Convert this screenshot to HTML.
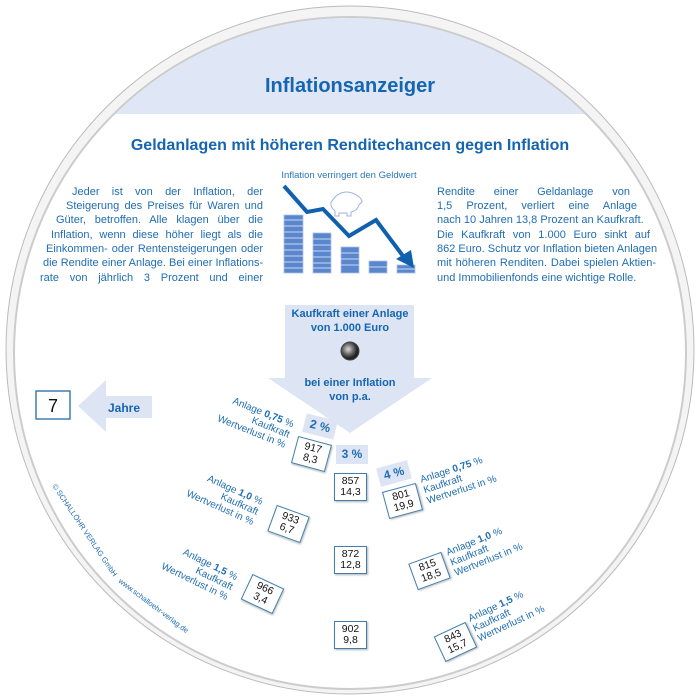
<!DOCTYPE html>
<html><head><meta charset="utf-8"><style>
body{margin:0;width:700px;height:700px;background:#fff;overflow:hidden;position:relative;font-family:"Liberation Sans",sans-serif;}
.ln{position:absolute;font-size:11px;color:#1f6db3;text-align:justify;text-align-last:justify;white-space:nowrap;line-height:14px;height:14px;}
.ln.l{text-align-last:left}
.r{position:absolute;font-size:10px;color:#1f6db3;line-height:11px;white-space:nowrap;}
.box{position:absolute;background:#fff;border:1.5px solid #3f7fb0;font-size:10.5px;line-height:11px;text-align:center;color:#111;box-shadow:1px 1px 2px rgba(0,0,0,.3);padding:2px 0;}
.pct{position:absolute;background:#dde5f5;color:#1f6db3;font-weight:bold;font-size:12px;text-align:center;line-height:19px;height:19px;width:32px;}
</style></head><body>
<svg width="700" height="700" style="position:absolute;left:0;top:0">
<defs>
<clipPath id="cd"><circle cx="350" cy="353" r="335"/></clipPath>
<radialGradient id="coin" cx="40%" cy="40%"><stop offset="0" stop-color="#ddd"/><stop offset=".6" stop-color="#666"/><stop offset="1" stop-color="#222"/></radialGradient>
</defs>
<circle cx="350" cy="350" r="344" fill="#f4f4f4" stroke="#bbb" stroke-width="1"/>
<circle cx="350" cy="353" r="336" fill="#fff" stroke="#ccc" stroke-width="2"/>
<rect x="0" y="0" width="700" height="114" fill="#dfe6f5" clip-path="url(#cd)"/>
<text x="350" y="92" text-anchor="middle" font-family="Liberation Sans" font-weight="bold" font-size="20" fill="#1565b0">Inflationsanzeiger</text>
<text x="350" y="150" text-anchor="middle" font-family="Liberation Sans" font-weight="bold" font-size="16" fill="#1565b0">Geldanlagen mit höheren Renditechancen gegen Inflation</text>
<text x="349" y="178" text-anchor="middle" font-family="Liberation Sans" font-size="9.5" fill="#2b76bb">Inflation verringert den Geldwert</text>
<g fill="#5a86cc" stroke="#a9c0e8" stroke-width="0.8">
<rect x="284" y="215" width="19" height="58"/>
<rect x="313" y="233" width="18" height="40"/>
<rect x="341" y="247" width="18" height="26"/>
<rect x="369" y="261" width="18" height="12"/>
<rect x="397" y="265" width="18" height="8"/>
</g>
<g stroke="#c9d8f2" stroke-width="1">
<path d="M284 220h19M284 226h19M284 232h19M284 238h19M284 244h19M284 250h19M284 256h19M284 262h19M284 268h19M313 239h18M313 245h18M313 251h18M313 257h18M313 263h18M313 268h18M341 253h18M341 259h18M341 265h18M369 267h18M397 269h18"/>
</g>
<path d="M336 196 q10 -8 22 0 q4 3 4 6 l-3 3 q-2 6 -8 7 v4 h-4 v-3 h-8 v3 h-4 v-5 q-5 -4 -4 -9 z" fill="none" stroke="#9fb3dd" stroke-width="1"/>
<polyline points="284,186 307,212 323,209 349,236 376,220 403,256" fill="none" stroke="#1060b0" stroke-width="4"/>
<polygon points="396,259 411,250 414,268" fill="#1060b0"/>
<polygon points="285,305 414,305 414,378 432,378 350,433 268,378 285,378" fill="#dde5f5"/>
<text x="350" y="317" text-anchor="middle" font-family="Liberation Sans" font-weight="bold" font-size="11" fill="#1565b0">Kaufkraft einer Anlage</text>
<text x="350" y="331" text-anchor="middle" font-family="Liberation Sans" font-weight="bold" font-size="11" fill="#1565b0">von 1.000 Euro</text>
<circle cx="350" cy="351" r="9" fill="url(#coin)" stroke="#444" stroke-width="1"/>
<text x="350" y="386" text-anchor="middle" font-family="Liberation Sans" font-weight="bold" font-size="11" fill="#1565b0">bei einer Inflation</text>
<text x="350" y="400" text-anchor="middle" font-family="Liberation Sans" font-weight="bold" font-size="11" fill="#1565b0">von p.a.</text>
<polygon points="78,406 106,380 106,396 152,396 152,418 106,418 106,432" fill="#dde5f5"/>
<text x="108" y="412" font-family="Liberation Sans" font-weight="bold" font-size="12" fill="#1565b0">Jahre</text>
<rect x="36" y="391" width="34" height="28" fill="#fff" stroke="#3f7fb0" stroke-width="1.5"/>
<text x="53" y="412" text-anchor="middle" font-family="Liberation Sans" font-size="18" fill="#111">7</text>
<text transform="translate(52,486) rotate(56)" font-family="Liberation Sans" font-size="7.5" fill="#1f6db3">© SCHALLÖHR VERLAG GmbH</text>
<text transform="translate(118,582) rotate(37)" font-family="Liberation Sans" font-size="7.5" fill="#1f6db3">www.schalloehr-verlag.de</text>
</svg>
<div class="ln" style="left:72px;top:185px;width:191px">Jeder ist von der Inflation, der</div>
<div class="ln" style="left:66px;top:199px;width:197px">Steigerung des Preises für Waren und</div>
<div class="ln" style="left:56px;top:213px;width:207px">Güter, betroffen. Alle klagen über die</div>
<div class="ln" style="left:51px;top:228px;width:212px">Inflation, wenn diese höher liegt als die</div>
<div class="ln" style="left:46px;top:242px;width:217px">Einkommen- oder Rentensteigerungen oder</div>
<div class="ln" style="left:43px;top:256px;width:220px">die Rendite einer Anlage. Bei einer Inflations-</div>
<div class="ln" style="left:40px;top:271px;width:223px">rate von jährlich 3 Prozent und einer</div>
<div class="ln" style="left:437px;top:185px;width:193px">Rendite einer Geldanlage von</div>
<div class="ln" style="left:437px;top:199px;width:200px">1,5 Prozent, verliert eine Anlage</div>
<div class="ln" style="left:437px;top:213px;width:205px">nach 10 Jahren 13,8 Prozent an Kaufkraft.</div>
<div class="ln" style="left:437px;top:228px;width:213px">Die Kaufkraft von 1.000 Euro sinkt auf</div>
<div class="ln" style="left:437px;top:242px;width:215px">862 Euro. Schutz vor Inflation bieten Anlagen</div>
<div class="ln" style="left:437px;top:256px;width:219px">mit höheren Renditen. Dabei spielen Aktien-</div>
<div class="ln l" style="left:437px;top:271px;width:219px">und Immobilienfonds eine wichtige Rolle.</div>

<div class="pct" style="left:304px;top:417px;transform:rotate(14deg)">2 %</div>
<div class="pct" style="left:336px;top:445px;">3 %</div>
<div class="pct" style="left:378px;top:464px;transform:rotate(-15deg)">4 %</div>

<div class="box" style="left:294px;top:440px;width:33px;transform:rotate(15deg)">917<br>8,3</div>
<div class="box" style="left:334px;top:473px;width:31px">857<br>14,3</div>
<div class="box" style="left:385px;top:487px;width:33px;transform:rotate(-15deg)">801<br>19,9</div>
<div class="box" style="left:271px;top:510px;width:33px;transform:rotate(20deg)">933<br>6,7</div>
<div class="box" style="left:334px;top:546px;width:31px">872<br>12,8</div>
<div class="box" style="left:412px;top:557px;width:33px;transform:rotate(-20deg)">815<br>18,5</div>
<div class="box" style="left:245px;top:580px;width:33px;transform:rotate(25deg)">966<br>3,4</div>
<div class="box" style="left:334px;top:621px;width:31px">902<br>9,8</div>
<div class="box" style="left:438px;top:628px;width:33px;transform:rotate(-25deg)">843<br>15,7</div>

<div class="r" style="left:212px;top:404px;width:80px;text-align:right;transform:rotate(22deg)">Anlage <b>0,75</b> %<br>Kaufkraft<br>Wertverlust in %</div>
<div class="r" style="left:181px;top:480px;width:80px;text-align:right;transform:rotate(24deg)">Anlage <b>1,0</b> %<br>Kaufkraft<br>Wertverlust in %</div>
<div class="r" style="left:156px;top:554px;width:80px;text-align:right;transform:rotate(26deg)">Anlage <b>1,5</b> %<br>Kaufkraft<br>Wertverlust in %</div>
<div class="r" style="left:422px;top:462px;width:80px;transform:rotate(-18deg)">Anlage <b>0,75</b> %<br>Kaufkraft<br>Wertverlust in %</div>
<div class="r" style="left:448px;top:532px;width:80px;transform:rotate(-22deg)">Anlage <b>1,0</b> %<br>Kaufkraft<br>Wertverlust in %</div>
<div class="r" style="left:470px;top:596px;width:80px;transform:rotate(-25deg)">Anlage <b>1,5</b> %<br>Kaufkraft<br>Wertverlust in %</div>
</body></html>
